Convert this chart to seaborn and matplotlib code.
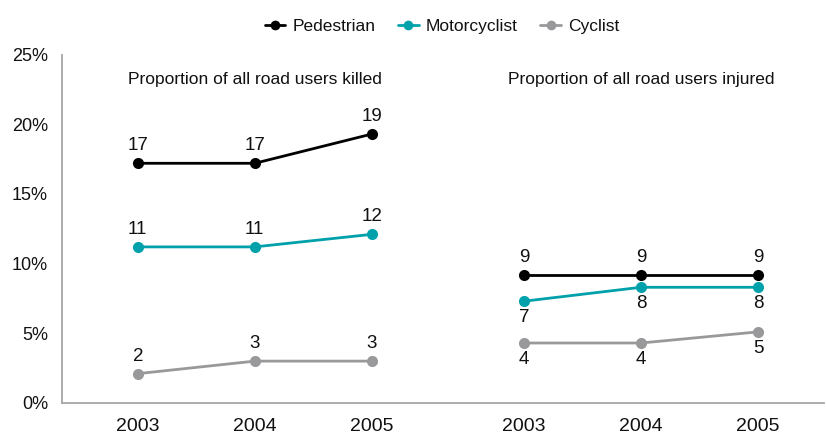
import matplotlib
matplotlib.use("Agg")
import matplotlib.pyplot as plt
from matplotlib.lines import Line2D
import seaborn as sns
import pandas as pd

sns.set_style("white")
plt.rcParams["font.family"] = ["Liberation Sans", "DejaVu Sans"]

# -----------------------------
# DATA
# -----------------------------
years = ["2003", "2004", "2005"]
series = ["Pedestrian", "Motorcyclist", "Cyclist"]
panels = ["killed", "injured"]

killed_ped = [17.2, 17.2, 19.3]
killed_moto = [11.2, 11.2, 12.1]
killed_cyc = [2.1, 3.0, 3.0]

injured_ped = [9.2, 9.2, 9.2]
injured_moto = [7.3, 8.3, 8.3]
injured_cyc = [4.3, 4.3, 5.1]

labels_killed = {"Pedestrian": [17, 17, 19], "Motorcyclist": [11, 11, 12], "Cyclist": [2, 3, 3]}
labels_injured = {"Pedestrian": [9, 9, 9], "Motorcyclist": [7, 8, 8], "Cyclist": [4, 4, 5]}

colors = {"Pedestrian": "#000000", "Motorcyclist": "#00a1aa", "Cyclist": "#99999c"}

# -----------------------------
# LONG TABLE
# -----------------------------
group_gap = 3.3
values = {
    "killed": {"Pedestrian": killed_ped, "Motorcyclist": killed_moto, "Cyclist": killed_cyc},
    "injured": {"Pedestrian": injured_ped, "Motorcyclist": injured_moto, "Cyclist": injured_cyc},
}
rows = []
for p, panel in enumerate(panels):
    for s in series:
        for i, y in enumerate(years):
            rows.append({"panel": panel, "series": s, "year": y,
                         "x": i + p * group_gap, "value": values[panel][s][i]})
df = pd.DataFrame(rows)

# -----------------------------
# PLOT
# -----------------------------
fig = plt.figure(figsize=(8.26, 4.37), dpi=100)
ax = fig.add_axes([0.075, 0.078, 0.922, 0.797])

sns.lineplot(data=df, x="x", y="value", hue="series", units="panel", estimator=None,
             palette=colors, hue_order=series, marker="o", markersize=8,
             markeredgewidth=0, linewidth=2, legend=False, ax=ax)

# value labels
for _, r in df.iterrows():
    lab = labels_killed if r["panel"] == "killed" else labels_injured
    v = lab[r["series"]][years.index(r["year"])]
    below = r["panel"] == "injured" and r["series"] != "Pedestrian"
    ax.annotate(str(v), (r["x"], r["value"]), xytext=(0, -12 if below else 12.5),
                textcoords="offset points", ha="center", va="center", fontsize=13.5,
                color="#111111")

ax.set_xlim(-0.648, 5.86)
ax.set_ylim(0, 25)
ax.set_yticks([0, 5, 10, 15, 20, 25])
ax.set_yticklabels([f"{t}%" for t in [0, 5, 10, 15, 20, 25]])
ax.set_xticks(df["x"].unique())
ax.set_xticklabels(years * 2)
ax.set_xlabel("")
ax.set_ylabel("")

for side in ["top", "right"]:
    ax.spines[side].set_visible(False)
for side in ["left", "bottom"]:
    ax.spines[side].set_color("#a6a6a6")
    ax.spines[side].set_linewidth(1.3)
ax.tick_params(axis="y", length=7, width=1.3, color="#a6a6a6", labelsize=13,
               labelcolor="#111111", pad=3)
ax.tick_params(axis="x", length=0, labelsize=14, labelcolor="#111111", pad=11)

ax.text(1, 23.2, "Proportion of all road users killed", ha="center", va="center",
        fontsize=12.5, color="#111111")
ax.text(1 + group_gap, 23.2, "Proportion of all road users injured", ha="center",
        va="center", fontsize=12.5, color="#111111")

handles = [Line2D([0], [0], color=colors[s], marker="o", markersize=7, markeredgewidth=0,
                  linewidth=2) for s in series]
fig.legend(handles, series, loc="center", bbox_to_anchor=(0.535, 0.94), ncol=3,
           frameon=False, fontsize=12.5, handlelength=1.2, handletextpad=0.4,
           columnspacing=1.3, labelcolor="#111111")

fig.savefig("out.png", dpi=100)
